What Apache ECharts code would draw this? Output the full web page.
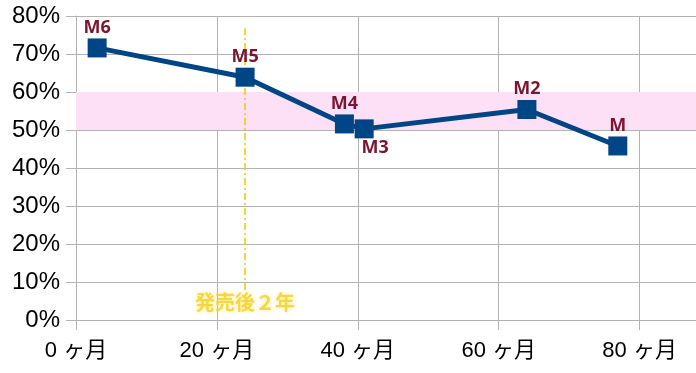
<!DOCTYPE html>
<html><head><meta charset="utf-8">
<script src="https://cdn.jsdelivr.net/npm/echarts@6/dist/echarts.min.js"></script>
<style>html,body{margin:0;padding:0;background:#fff}#c{width:696px;height:373px}</style>
</head><body><div id="c"></div>
<script>
const months = [3, 24, 38.1, 40.9, 64, 76.9];
const values = [71.6, 63.9, 51.6, 50.3, 55.4, 45.8];
const pointLabels = ['M6', 'M5', 'M4', 'M3', 'M2', 'M'];
const labelPos = ['top', 'top', 'top', 'bottom', 'top', 'top'];
const bandRange = [50, 60];
const markerMonth = 24;
const markerSpan = [7.9, 76.8];
const markerText = '発売後２年';
const markerTextValue = 4.7;

const chart = echarts.init(document.getElementById('c'), null, {renderer: 'canvas'});
const fontMain = '"Liberation Sans", Arial, "Noto Sans CJK JP", sans-serif';

const lineData = months.map((m, i) => ({
  value: [m, values[i]],
  label: {
    show: true, formatter: pointLabels[i], position: labelPos[i],
    offset: labelPos[i] === 'bottom' ? [11, -1] : [0, 0],
    distance: 2
  }
}));

chart.setOption({
  animation: false,
  grid: {left: 76, right: 0, top: 16, bottom: 53, containLabel: false},
  xAxis: {
    type: 'value', min: 0, max: 88, interval: 20,
    axisLine: {show: true, lineStyle: {color: '#b3b3b3', width: 1}},
    axisTick: {show: true, length: 10, lineStyle: {color: '#b3b3b3'}},
    splitLine: {show: true, lineStyle: {color: '#b3b3b3', width: 1}},
    axisLabel: {
      formatter: '{value} ヶ月', color: '#000', fontSize: 22, margin: 20,
      fontFamily: fontMain, showMaxLabel: false
    }
  },
  yAxis: {
    type: 'value', min: 0, max: 80, interval: 10,
    axisLine: {show: true, lineStyle: {color: '#b3b3b3', width: 1}},
    axisTick: {show: true, length: 10, lineStyle: {color: '#b3b3b3'}},
    splitLine: {show: true, lineStyle: {color: '#b3b3b3', width: 1}},
    axisLabel: {
      formatter: '{value}%', color: '#000', fontSize: 24, margin: 16,
      fontFamily: fontMain
    }
  },
  series: [
    {
      type: 'line', data: [], silent: true,
      markArea: {
        silent: true,
        itemStyle: {color: '#fde0f5'},
        data: [[{yAxis: bandRange[0]}, {yAxis: bandRange[1]}]]
      },
      markLine: {
        silent: true, symbol: ['none', 'none'],
        lineStyle: {color: '#f0c800', width: 1.5, type: [7, 3, 2, 3]},
        label: {show: false},
        data: [[{coord: [markerMonth, markerSpan[0]]}, {coord: [markerMonth, markerSpan[1]]}]]
      }
    },
    {
      type: 'scatter', symbolSize: 0, silent: true,
      data: [[markerMonth, markerTextValue]],
      label: {
        show: true, formatter: markerText, position: 'inside',
        color: '#f5d020', fontSize: 20, fontWeight: 'bold',
        fontFamily: '"Noto Sans CJK JP", sans-serif',
        textShadowColor: 'rgba(255,225,60,0.7)', textShadowBlur: 4
      }
    },
    {
      type: 'line', data: lineData,
      symbol: 'rect', symbolSize: 19,
      lineStyle: {color: '#004586', width: 5},
      itemStyle: {color: '#004586'},
      label: {
        color: '#7b1530', fontSize: 18, fontWeight: 'bold',
        fontFamily: '"Open Sans", "Liberation Sans", sans-serif'
      },
      z: 5
    }
  ]
});
</script></body></html>
